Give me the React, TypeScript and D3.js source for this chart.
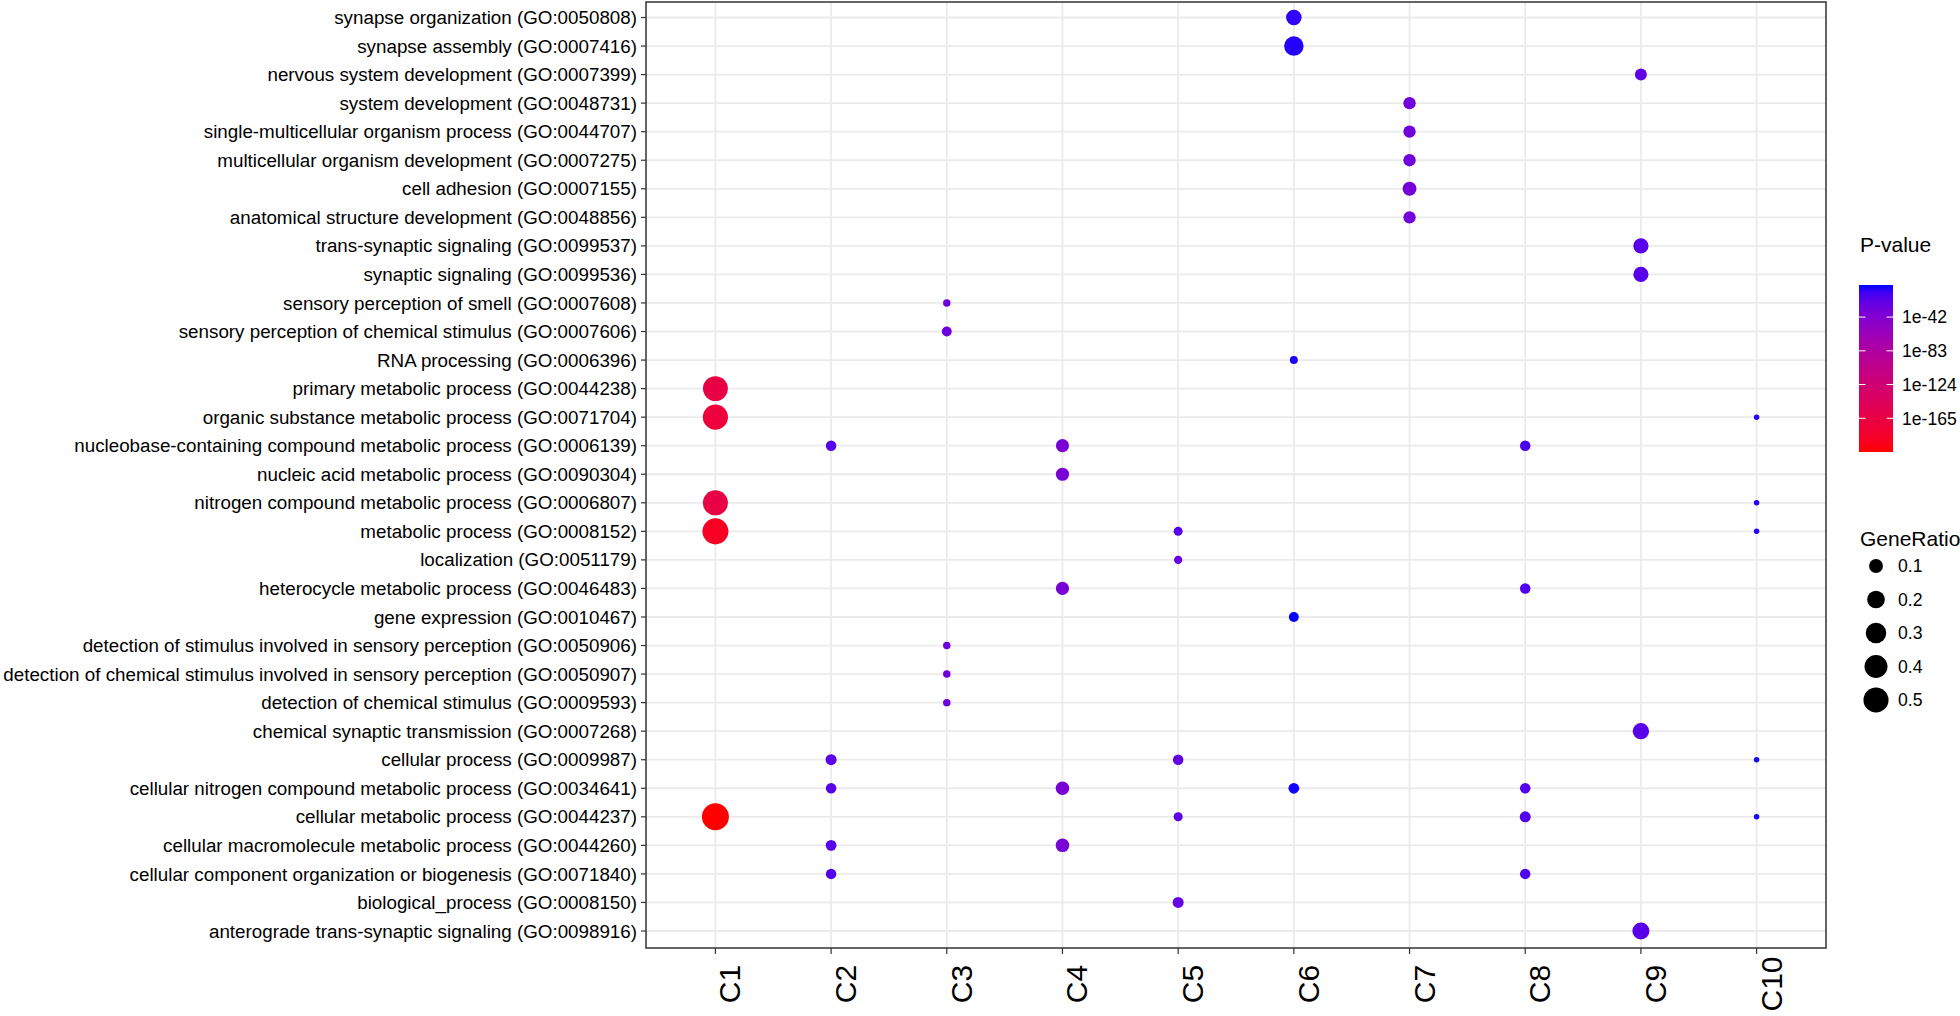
import React, { useRef, useEffect } from "react";
import * as d3 from "d3";

// GO terms, top to bottom
const TERMS = [
  "synapse organization (GO:0050808)",
  "synapse assembly (GO:0007416)",
  "nervous system development (GO:0007399)",
  "system development (GO:0048731)",
  "single-multicellular organism process (GO:0044707)",
  "multicellular organism development (GO:0007275)",
  "cell adhesion (GO:0007155)",
  "anatomical structure development (GO:0048856)",
  "trans-synaptic signaling (GO:0099537)",
  "synaptic signaling (GO:0099536)",
  "sensory perception of smell (GO:0007608)",
  "sensory perception of chemical stimulus (GO:0007606)",
  "RNA processing (GO:0006396)",
  "primary metabolic process (GO:0044238)",
  "organic substance metabolic process (GO:0071704)",
  "nucleobase-containing compound metabolic process (GO:0006139)",
  "nucleic acid metabolic process (GO:0090304)",
  "nitrogen compound metabolic process (GO:0006807)",
  "metabolic process (GO:0008152)",
  "localization (GO:0051179)",
  "heterocycle metabolic process (GO:0046483)",
  "gene expression (GO:0010467)",
  "detection of stimulus involved in sensory perception (GO:0050906)",
  "detection of chemical stimulus involved in sensory perception (GO:0050907)",
  "detection of chemical stimulus (GO:0009593)",
  "chemical synaptic transmission (GO:0007268)",
  "cellular process (GO:0009987)",
  "cellular nitrogen compound metabolic process (GO:0034641)",
  "cellular metabolic process (GO:0044237)",
  "cellular macromolecule metabolic process (GO:0044260)",
  "cellular component organization or biogenesis (GO:0071840)",
  "biological_process (GO:0008150)",
  "anterograde trans-synaptic signaling (GO:0098916)",
];

const CLUSTERS = ["C1", "C2", "C3", "C4", "C5", "C6", "C7", "C8", "C9", "C10"];

// [GO id, cluster, GeneRatio, log10(P-value)]
const DOTS: [string, string, number, number][] = [
  ["GO:0050808", "C6", 0.137, -8],
  ["GO:0007416", "C6", 0.26, -6],
  ["GO:0007399", "C9", 0.063, -23],
  ["GO:0048731", "C7", 0.07, -32],
  ["GO:0044707", "C7", 0.07, -32],
  ["GO:0007275", "C7", 0.07, -32],
  ["GO:0007155", "C7", 0.1, -34],
  ["GO:0048856", "C7", 0.07, -32],
  ["GO:0099537", "C9", 0.13, -20],
  ["GO:0099536", "C9", 0.13, -20],
  ["GO:0007608", "C3", 0.015, -30],
  ["GO:0007606", "C3", 0.035, -30],
  ["GO:0006396", "C6", 0.018, -5],
  ["GO:0044238", "C1", 0.49, -165],
  ["GO:0071704", "C1", 0.5, -172],
  ["GO:0071704", "C10", 0.01, -6],
  ["GO:0006139", "C2", 0.042, -18],
  ["GO:0006139", "C4", 0.085, -36],
  ["GO:0006139", "C8", 0.042, -15],
  ["GO:0090304", "C4", 0.085, -36],
  ["GO:0006807", "C1", 0.5, -165],
  ["GO:0006807", "C10", 0.01, -6],
  ["GO:0008152", "C1", 0.55, -190],
  ["GO:0008152", "C5", 0.026, -20],
  ["GO:0008152", "C10", 0.01, -6],
  ["GO:0051179", "C5", 0.02, -26],
  ["GO:0046483", "C4", 0.085, -36],
  ["GO:0046483", "C8", 0.042, -16],
  ["GO:0010467", "C6", 0.035, -3],
  ["GO:0050906", "C3", 0.015, -30],
  ["GO:0050907", "C3", 0.015, -30],
  ["GO:0009593", "C3", 0.015, -30],
  ["GO:0007268", "C9", 0.16, -20],
  ["GO:0009987", "C2", 0.049, -22],
  ["GO:0009987", "C5", 0.042, -25],
  ["GO:0009987", "C10", 0.01, -5],
  ["GO:0034641", "C2", 0.042, -20],
  ["GO:0034641", "C4", 0.092, -36],
  ["GO:0034641", "C6", 0.045, -4],
  ["GO:0034641", "C8", 0.042, -18],
  ["GO:0044237", "C1", 0.6, -206],
  ["GO:0044237", "C5", 0.026, -22],
  ["GO:0044237", "C8", 0.049, -18],
  ["GO:0044237", "C10", 0.01, -5],
  ["GO:0044260", "C2", 0.045, -20],
  ["GO:0044260", "C4", 0.092, -36],
  ["GO:0071840", "C2", 0.042, -16],
  ["GO:0071840", "C8", 0.042, -16],
  ["GO:0008150", "C5", 0.049, -25],
  ["GO:0098916", "C9", 0.18, -20],
];

const PVALUE_TICKS = [-42, -83, -124, -165];
const RATIO_BREAKS = [0.1, 0.2, 0.3, 0.4, 0.5];

const W = 1960;
const H = 1016;

const App = () => {
  const svgRef = useRef<SVGSVGElement>(null);

  useEffect(() => {
    const svg = d3.select(svgRef.current);
    svg.selectAll("*").remove();

    const panel = { left: 646, right: 1826, top: 2, bottom: 948 };
    const font = "'Liberation Sans', Arial, sans-serif";

    const x = d3.scalePoint<string>()
      .domain(CLUSTERS)
      .range([panel.left, panel.right])
      .padding(0.6);

    const y = d3.scalePoint<string>()
      .domain(TERMS)
      .range([17.5, 931]);

    const termOf = (id: string) => TERMS.find(t => t.includes(id)) as string;

    // colour: log10 p, red (low) -> blue (high), Lab interpolation like ggplot
    const pExtent = d3.extent(DOTS, d => d[3]) as [number, number];
    const colorT = d3.scaleLinear().domain(pExtent).range([0, 1]);
    const lab = d3.interpolateLab("#FF0000", "#0000FF");
    const color = (v: number) => lab(colorT(v));

    // size: ggplot area palette
    const rExtent = d3.extent(DOTS, d => d[2]) as [number, number];
    const sizeT = d3.scaleLinear().domain(rExtent).range([0, 1]).clamp(true);
    const diam = (v: number) => 5.5 + 21.5 * Math.sqrt(sizeT(v));

    svg.append("rect").attr("width", W).attr("height", H).attr("fill", "#fff");

    const g = svg.append("g");

    // grid
    g.selectAll(".gy")
      .data(TERMS)
      .enter()
      .append("line")
      .attr("x1", panel.left)
      .attr("x2", panel.right)
      .attr("y1", d => y(d)!)
      .attr("y2", d => y(d)!)
      .attr("stroke", "#ebebeb")
      .attr("stroke-width", 1.8);

    g.selectAll(".gx")
      .data(CLUSTERS)
      .enter()
      .append("line")
      .attr("x1", d => x(d)!)
      .attr("x2", d => x(d)!)
      .attr("y1", panel.top)
      .attr("y2", panel.bottom)
      .attr("stroke", "#ebebeb")
      .attr("stroke-width", 1.8);

    // dots
    g.selectAll("circle")
      .data(DOTS)
      .enter()
      .append("circle")
      .attr("cx", d => x(d[1])!)
      .attr("cy", d => y(termOf(d[0]))!)
      .attr("r", d => diam(d[2]) / 2)
      .attr("fill", d => color(d[3]));

    // border
    g.append("rect")
      .attr("x", panel.left)
      .attr("y", panel.top)
      .attr("width", panel.right - panel.left)
      .attr("height", panel.bottom - panel.top)
      .attr("fill", "none")
      .attr("stroke", "#333")
      .attr("stroke-width", 1.5);

    // y axis
    const ya = g.append("g");
    TERMS.forEach(t => {
      ya.append("line")
        .attr("x1", panel.left - 5).attr("x2", panel.left)
        .attr("y1", y(t)!).attr("y2", y(t)!)
        .attr("stroke", "#333").attr("stroke-width", 1.2);
      ya.append("text")
        .attr("x", panel.left - 9)
        .attr("y", y(t)! + 6.6)
        .attr("text-anchor", "end")
        .style("font-family", font)
        .style("font-size", "18.8px")
        .attr("fill", "#000")
        .text(t);
    });

    // x axis
    const xa = g.append("g");
    CLUSTERS.forEach(c => {
      xa.append("line")
        .attr("x1", x(c)!).attr("x2", x(c)!)
        .attr("y1", panel.bottom).attr("y2", panel.bottom + 6)
        .attr("stroke", "#333").attr("stroke-width", 1.2);
      xa.append("text")
        .attr("transform", `translate(${x(c)! + 25},984) rotate(-90)`)
        .attr("text-anchor", "middle")
        .style("font-family", font)
        .style("font-size", "30px")
        .attr("fill", "#000")
        .text(c);
    });

    // colour legend
    const leg = svg.append("g");
    leg.append("text")
      .attr("x", 1860).attr("y", 251.5)
      .style("font-family", font).style("font-size", "21px")
      .text("P-value");

    const bar = { x: 1859, w: 34, top: 285, bottom: 452 };
    const barY = d3.scaleLinear().domain(pExtent).range([bar.bottom, bar.top]);
    const grad = svg.append("defs").append("linearGradient")
      .attr("id", "pgrad")
      .attr("x1", 0).attr("x2", 0).attr("y1", 1).attr("y2", 0);
    d3.range(0, 1.0001, 0.05).forEach(t => {
      grad.append("stop").attr("offset", t).attr("stop-color", lab(t));
    });
    leg.append("rect")
      .attr("x", bar.x).attr("y", bar.top)
      .attr("width", bar.w).attr("height", bar.bottom - bar.top)
      .attr("fill", "url(#pgrad)");
    PVALUE_TICKS.forEach(v => {
      const ty = barY(v);
      leg.append("line")
        .attr("x1", bar.x).attr("x2", bar.x + 6.5).attr("y1", ty).attr("y2", ty)
        .attr("stroke", "#fff").attr("stroke-width", 1);
      leg.append("line")
        .attr("x1", bar.x + bar.w - 6.5).attr("x2", bar.x + bar.w).attr("y1", ty).attr("y2", ty)
        .attr("stroke", "#fff").attr("stroke-width", 1);
      leg.append("text")
        .attr("x", 1902).attr("y", ty + 6.3)
        .style("font-family", font).style("font-size", "17.6px")
        .text(`1e${v}`);
    });

    // size legend
    leg.append("text")
      .attr("x", 1860).attr("y", 546)
      .style("font-family", font).style("font-size", "21px")
      .text("GeneRatio");
    const keyY = d3.scalePoint<number>().domain(RATIO_BREAKS).range([566, 700]);
    RATIO_BREAKS.forEach(v => {
      leg.append("circle")
        .attr("cx", 1876).attr("cy", keyY(v)!)
        .attr("r", diam(v) / 2)
        .attr("fill", "#000");
      leg.append("text")
        .attr("x", 1898).attr("y", keyY(v)! + 6.3)
        .style("font-family", font).style("font-size", "17.6px")
        .text(v.toFixed(1));
    });
  }, []);

  return (
    <div style={{ position: "absolute", left: 0, top: 0 }}>
      <svg ref={svgRef} width={W} height={H}></svg>
    </div>
  );
};

export default App;
